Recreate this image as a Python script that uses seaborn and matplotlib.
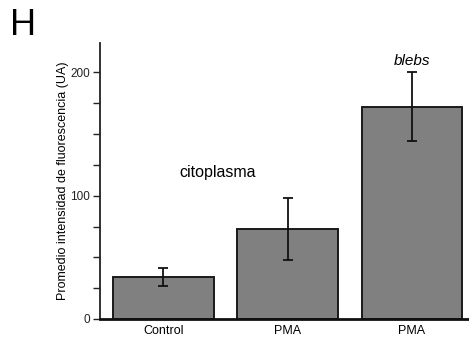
import pandas as pd
import numpy as np
import matplotlib.pyplot as plt
import seaborn as sns
from matplotlib.ticker import MultipleLocator, FuncFormatter

# datos
grupos = ['control', 'pma_cito', 'pma_blebs']
etiquetas = ['Control', 'PMA', 'PMA']
promedio = [34, 73, 172]
error = [7, 25, 28]


def main():
    df = pd.DataFrame({'grupo': grupos, 'valor': promedio, 'err': error})

    sns.set_style('ticks')
    plt.rcParams['font.family'] = ['Liberation Sans', 'DejaVu Sans']
    plt.rcParams['text.color'] = 'black'
    plt.rcParams['axes.labelcolor'] = 'black'
    plt.rcParams['xtick.color'] = '#222222'
    plt.rcParams['ytick.color'] = '#222222'

    fig = plt.figure(figsize=(4.69, 3.43), dpi=100)
    ax = fig.add_axes([0.213, 0.070, 0.787, 0.805])

    sns.barplot(data=df, x='grupo', y='valor', color='#808080', saturation=1,
                width=0.81, edgecolor='#1a1a1a', linewidth=1.4, errorbar=None, ax=ax)

    ax.errorbar(np.arange(len(grupos)), df['valor'], yerr=df['err'], fmt='none',
                ecolor='#111111', elinewidth=1.3, capsize=3.5, capthick=1.3)

    ax.set_xlim(-0.51, 2.46)
    ax.set_ylim(0, 224)
    ax.yaxis.set_major_locator(MultipleLocator(25))
    ax.yaxis.set_major_formatter(FuncFormatter(lambda v, p: f'{v:.0f}' if v % 100 == 0 else ''))
    ax.set_xticks(range(len(grupos)))
    ax.set_xticklabels(etiquetas, fontsize=9, color='black')
    ax.tick_params(axis='x', length=0, pad=4)
    ax.tick_params(axis='y', length=5, width=1, labelsize=8.5, pad=2)
    ax.set_xlabel('')
    ax.set_ylabel('Promedio intensidad de fluorescencia (UA)', fontsize=9, labelpad=1)

    sns.despine(ax=ax)
    ax.spines['left'].set_linewidth(1.3)
    ax.spines['bottom'].set_linewidth(2)
    ax.spines['left'].set_color('#222222')
    ax.spines['bottom'].set_color('#111111')

    ax.text(0.44, 119, 'citoplasma', fontsize=11.5, ha='center', va='center')
    ax.text(2, 209, 'blebs', fontsize=11, style='italic', ha='center', va='center')
    fig.text(0.05, 0.925, 'H', fontsize=26, ha='center', va='center')

    plt.savefig('out.png', dpi=100)


if __name__ == '__main__':
    main()
